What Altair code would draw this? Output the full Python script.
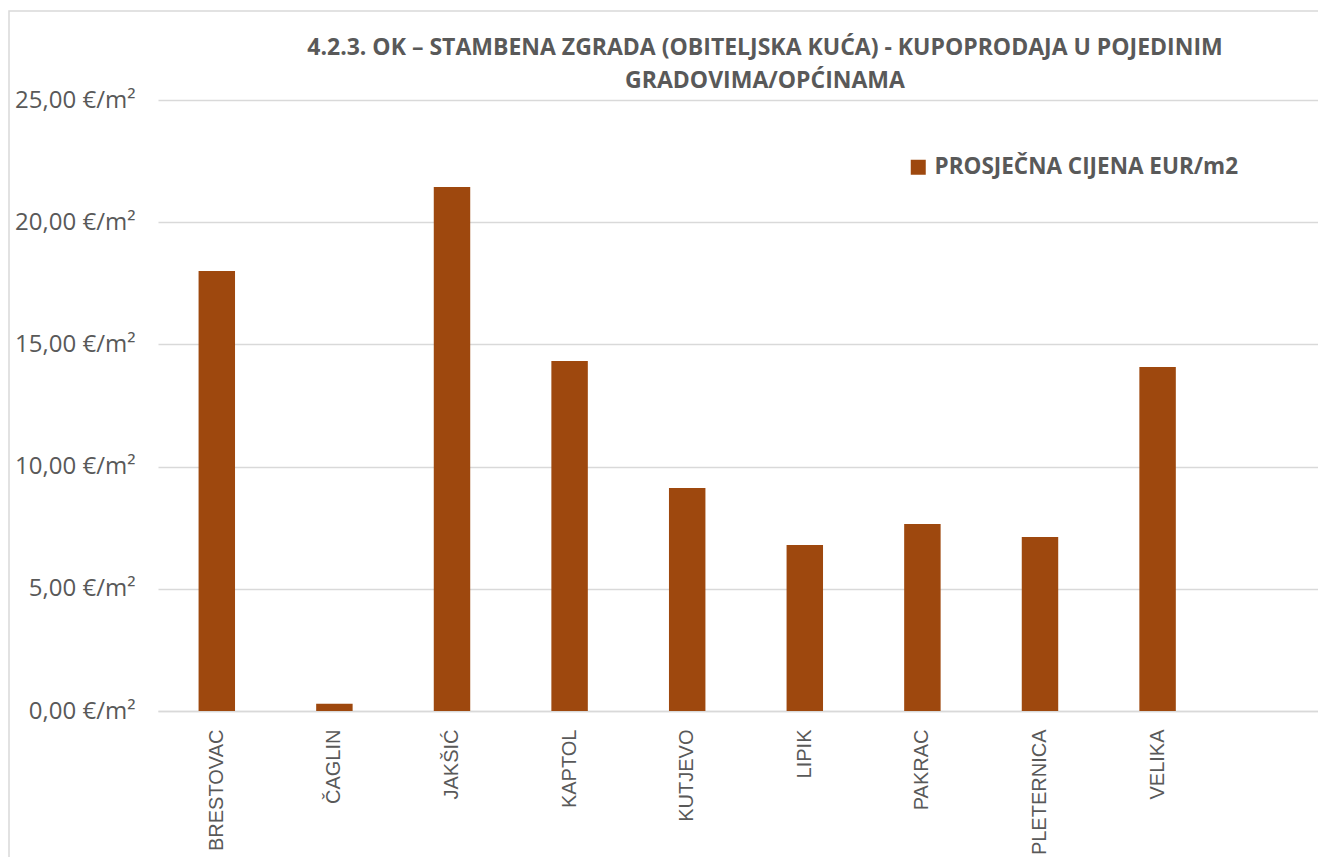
import altair as alt
import pandas as pd

categories = ["BRESTOVAC", "ČAGLIN", "JAKŠIĆ", "KAPTOL", "KUTJEVO", "LIPIK", "PAKRAC", "PLETERNICA", "VELIKA"]
values = [18.00, 0.30, 21.44, 14.32, 9.12, 6.79, 7.65, 7.12, 14.08]
series_name = "PROSJEČNA CIJENA EUR/m2"
title_lines = ["4.2.3. OK – STAMBENA ZGRADA (OBITELJSKA KUĆA) - KUPOPRODAJA U POJEDINIM", "GRADOVIMA/OPĆINAMA"]

df = pd.DataFrame({"grad": categories, "cijena": values, "serija": series_name})

W = 1160
H = 611
TEXT = "#595959"
GRID = "#D9D9D9"
BAR = "#9E480E"

bars = alt.Chart(df).mark_bar(color=BAR).encode(
    x=alt.X("grad:N", sort=categories,
            scale=alt.Scale(paddingInner=0.69, paddingOuter=0.777, align=0.222),
            axis=alt.Axis(title=None, labelAngle=270, labelFontSize=20, labelFont="Liberation Sans",
                          labelColor=TEXT, labelPadding=18, ticks=False,
                          domainColor=GRID, domainWidth=1.5, grid=False)),
    y=alt.Y("cijena:Q", scale=alt.Scale(domain=[0, 25], nice=False),
            axis=alt.Axis(title=None, values=[0, 5, 10, 15, 20, 25],
                          labelExpr="replace(format(datum.value, '.2f'), '.', ',') + ' €/m²'",
                          labelFontSize=24, labelFont="Open Sans", labelColor=TEXT,
                          labelPadding=23, ticks=False, domain=False,
                          grid=True, gridColor=GRID, gridWidth=1.3)),
    color=alt.Color("serija:N", scale=alt.Scale(range=[BAR]),
                    legend=alt.Legend(title=None, orient="none", legendX=749, legendY=56,
                                      symbolType="square", symbolSize=225, symbolStrokeWidth=0,
                                      labelFontSize=22.5, labelFont="Open Sans", labelFontWeight="bold",
                                      labelColor=TEXT, labelOffset=5, labelLimit=0)),
)

frame = alt.Chart(pd.DataFrame({"a": [0]})).mark_rect(fill=None, stroke=GRID, strokeWidth=1.5).encode(
    x=alt.value(-149), x2=alt.value(W + 300), y=alt.value(-89), y2=alt.value(H + 300)
)

title = alt.Chart(pd.DataFrame({"a": [0]})).mark_text(
    text=title_lines, fontSize=23, font="Open Sans", fontWeight="bold", color=TEXT,
    align="center", baseline="alphabetic", lineHeight=33
).encode(x=alt.value(607), y=alt.value(-45))

chart = alt.layer(frame, bars, title).properties(
    width=W, height=H,
    autosize=alt.AutoSizeParams(type="none"),
    padding={"left": 150, "top": 92, "right": 0, "bottom": 146},
).configure_view(stroke=None)

chart.save("out.html", embed_options={"renderer": "svg", "actions": False})
